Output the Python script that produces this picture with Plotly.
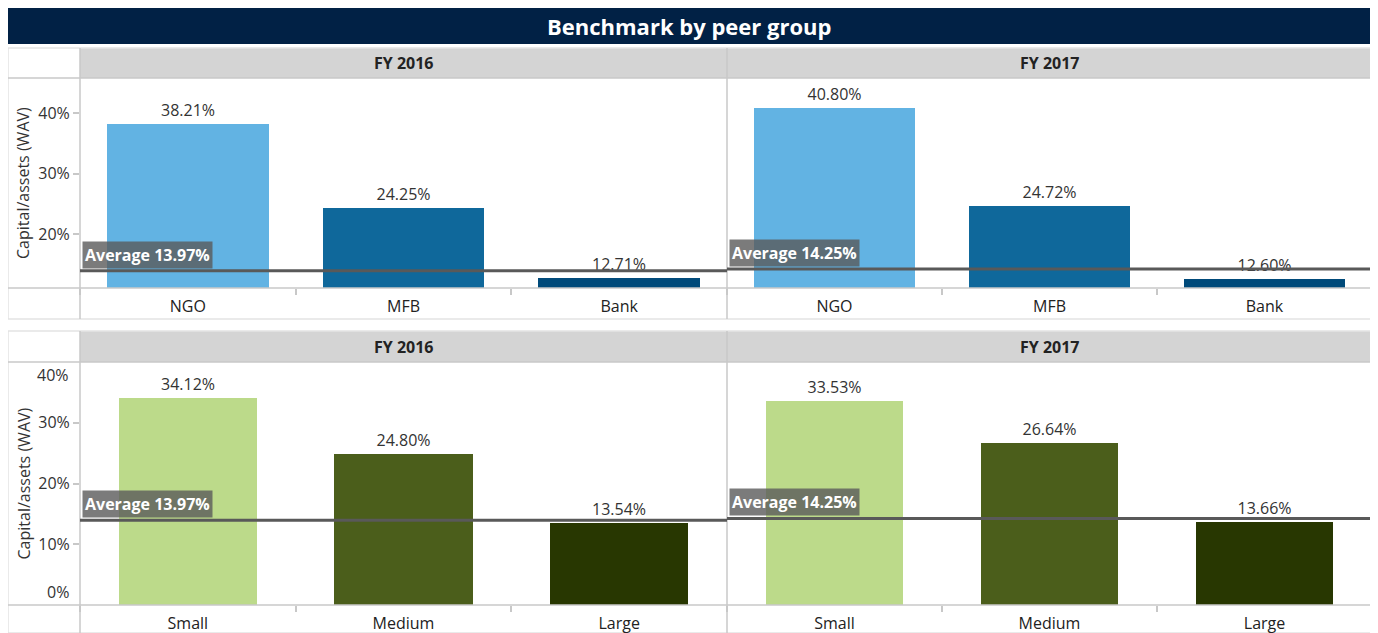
import plotly.graph_objects as go

# The page adds an 8px body margin, so the figure is laid out in reference pixels minus that offset.
OFF = 8
W, H = 1378 - OFF, 633 - OFF

# ---------------- data ----------------
years = ["FY 2016", "FY 2017"]
type_cats = ["NGO", "MFB", "Bank"]
type_2016 = [38.21, 24.25, 12.71]
type_2017 = [40.80, 24.72, 12.60]
type_colors = ["#62B3E3", "#0F689B", "#004A7A"]

size_cats = ["Small", "Medium", "Large"]
size_2016 = [34.12, 24.80, 13.54]
size_2017 = [33.53, 26.64, 13.66]
size_colors = ["#BCDA8A", "#4B5E1B", "#283701"]

averages = [13.97, 14.25]

top_ticks = [20, 30, 40]
bottom_ticks = [10, 20, 30]

# ---------------- geometry helpers ----------------
def fx(x):
    return min(max((x - OFF) / W, 0), 1)

def fy(y):
    return min(max(1 - (y - OFF) / H, 0), 1)

X0, XL, XM, X1 = 7, 80, 727, 1372
panels = [
    dict(top=48, head=78, plot_bot=288, bot=319, rng=[11.1, 45.8], cats=type_cats,
         vals=[type_2016, type_2017], colors=type_colors, width=0.75, ticks=top_ticks),
    dict(top=331, head=362, plot_bot=605, bot=645, rng=[0, 40], cats=size_cats,
         vals=[size_2016, size_2017], colors=size_colors, width=0.64, ticks=bottom_ticks),
]

fig = go.Figure()
shapes = []
annotations = []
font_family = "Open Sans"
grid_col = "#c8c8c8"

# Title bar
shapes.append(dict(type="rect", xref="paper", yref="paper", x0=fx(7), x1=fx(1370), y0=fy(44), y1=fy(7),
                   fillcolor="#012145", line=dict(width=0), layer="below"))
annotations.append(dict(text="<b>Benchmark by peer group</b>", xref="paper", yref="paper",
                        x=fx(689), y=fy(26), showarrow=False, xanchor="center", yanchor="middle",
                        font=dict(family=font_family, size=22, color="white")))

axis_idx = 0
for pi, p in enumerate(panels):
    # header fill
    shapes.append(dict(type="rect", xref="paper", yref="paper", x0=fx(XL), x1=fx(X1), y0=fy(p["head"]), y1=fy(p["top"]),
                       fillcolor="#d4d4d4", line=dict(width=0), layer="below"))
    # outer frame
    shapes.append(dict(type="rect", xref="paper", yref="paper", x0=fx(X0), x1=fx(X1), y0=fy(p["bot"]), y1=fy(p["top"]),
                       fillcolor="rgba(0,0,0,0)", line=dict(width=1.5, color="#e3e3e3"), layer="below"))
    # horizontal separators
    for yy in (p["head"], p["plot_bot"]):
        shapes.append(dict(type="line", xref="paper", yref="paper", x0=fx(X0), x1=fx(X1), y0=fy(yy), y1=fy(yy),
                           line=dict(width=1.5, color=grid_col), layer="above"))
    # vertical separators
    for xx in (XL, XM):
        shapes.append(dict(type="line", xref="paper", yref="paper", x0=fx(xx), x1=fx(xx), y0=fy(p["bot"]), y1=fy(p["top"]),
                           line=dict(width=1.5, color=grid_col), layer="above"))
    # y title
    annotations.append(dict(text="Capital/assets (WAV)", xref="paper", yref="paper", x=fx(23),
                            y=fy((p["head"] + p["plot_bot"]) / 2), showarrow=False, textangle=-90,
                            xanchor="center", yanchor="middle",
                            font=dict(family=font_family, size=16, color="#333333")))

    for yi, yr in enumerate(years):
        axis_idx += 1
        xa = "x" if axis_idx == 1 else f"x{axis_idx}"
        ya = "y" if axis_idx == 1 else f"y{axis_idx}"
        xl, xr = (XL, XM) if yi == 0 else (XM, X1)
        # header text
        annotations.append(dict(text=f"<b>{yr}</b>", xref="paper", yref="paper", x=fx((xl + xr) / 2),
                                y=fy((p["top"] + p["head"]) / 2), showarrow=False, xanchor="center",
                                yanchor="middle", font=dict(family=font_family, size=16, color="#222222")))
        vals = p["vals"][yi]
        fig.add_trace(go.Bar(
            x=p["cats"], y=vals, marker=dict(color=p["colors"], line=dict(width=0)),
            width=p["width"], text=[f"{v:.2f}%" for v in vals], textposition="outside",
            textfont=dict(family=font_family, size=16, color="#333333"), cliponaxis=False,
            xaxis=xa, yaxis=ya, showlegend=False, hoverinfo="skip"))
        xkey = "xaxis" if axis_idx == 1 else f"xaxis{axis_idx}"
        ykey = "yaxis" if axis_idx == 1 else f"yaxis{axis_idx}"
        fig.layout[xkey] = dict(domain=[fx(xl), fx(xr)], anchor=ya, type="category",
                                tickson="boundaries", ticks="outside", ticklen=6, tickcolor=grid_col,
                                tickwidth=1.5, showline=False, showgrid=False, zeroline=False,
                                ticklabelstandoff=7,
                                tickfont=dict(family=font_family, size=16, color="#222222"),
                                fixedrange=True)
        show_lbl = (yi == 0)
        fig.layout[ykey] = dict(domain=[fy(p["plot_bot"]), fy(p["head"])], anchor=xa, range=p["rng"],
                                tickvals=p["ticks"] if show_lbl else [],
                                ticktext=[f"{t}%" for t in p["ticks"]] if show_lbl else [],
                                ticks="outside" if show_lbl else "", ticklen=6, tickcolor=grid_col,
                                tickwidth=1.5, showline=False, showgrid=False, zeroline=False,
                                tickfont=dict(family=font_family, size=16, color="#333333"),
                                fixedrange=True)
        # average line
        avg = averages[yi]
        shapes.append(dict(type="line", xref=f"{xa} domain", yref=ya, x0=0, x1=1, y0=avg, y1=avg,
                           line=dict(width=3, color="#595959"), layer="above"))
        annotations.append(dict(text=f"<b>Average {avg:.2f}%</b>", xref="paper", yref=ya,
                                x=fx(xl + 2), y=avg, yshift=2, showarrow=False, xanchor="left", yanchor="bottom",
                                bgcolor="rgba(90,90,90,0.8)", borderpad=2,
                                font=dict(family=font_family, size=16, color="white")))

# extra edge tick labels for bottom chart (shifted inside plot like the reference)
annotations.append(dict(text="0%", xref="paper", yref="y3", x=fx(71), y=0, showarrow=False,
                        xanchor="right", yanchor="bottom",
                        font=dict(family=font_family, size=16, color="#333333")))
annotations.append(dict(text="40%", xref="paper", yref="y3", x=fx(71), y=40, showarrow=False,
                        xanchor="right", yanchor="top",
                        font=dict(family=font_family, size=16, color="#333333")))

fig.update_layout(width=W, height=H, margin=dict(l=0, r=0, t=0, b=0),
                  paper_bgcolor="white", plot_bgcolor="white",
                  shapes=shapes, annotations=annotations, bargap=0,
                  font=dict(family=font_family))

fig.write_html("out.html")
